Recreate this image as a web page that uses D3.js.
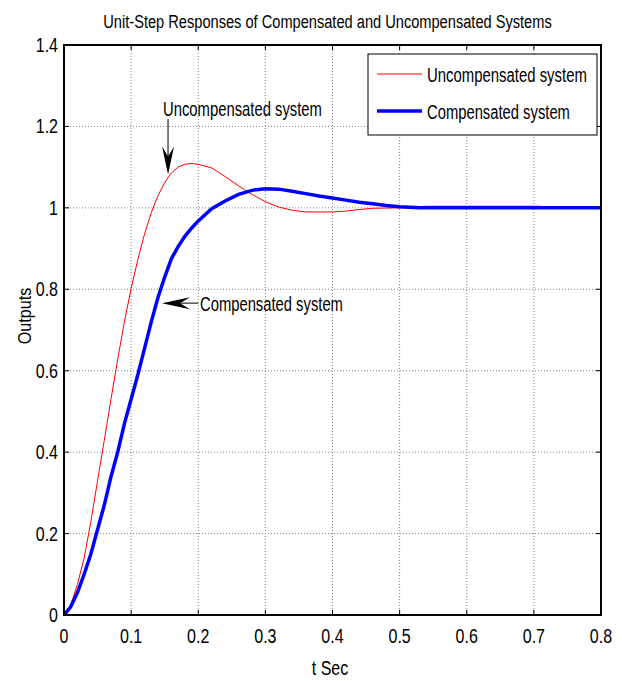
<!DOCTYPE html>
<html>
<head>
<meta charset="utf-8">
<script src="https://cdn.jsdelivr.net/npm/d3@7"></script>
<style>
  body { margin: 0; background: #fff; }
  svg text { font-family: "Liberation Sans", Arial, sans-serif; fill: #000; }
</style>
</head>
<body>
<div id="chart"></div>
<script>
// time axis samples (s) and step responses
var tUncomp = [0, 0.01, 0.02, 0.03, 0.04, 0.05, 0.06, 0.07, 0.08, 0.09, 0.10, 0.11, 0.12, 0.13, 0.14,
  0.15, 0.16, 0.17, 0.18, 0.19, 0.20, 0.22, 0.24, 0.26, 0.28, 0.30, 0.32, 0.34, 0.36, 0.38, 0.40,
  0.42, 0.44, 0.46, 0.50, 0.52, 0.54, 0.60, 0.71];
var yUncomp = [0, 0.025, 0.075, 0.14, 0.229, 0.33, 0.429, 0.53, 0.628, 0.72, 0.802, 0.873, 0.936, 0.988, 1.030,
  1.062, 1.086, 1.100, 1.107, 1.109, 1.107, 1.098, 1.077, 1.054, 1.033, 1.015, 1.002, 0.994, 0.990, 0.990, 0.990,
  0.992, 0.996, 0.999, 1.000, 1.002, 1.004, 1.004, 1.004];

var tComp = [0, 0.01, 0.02, 0.03, 0.04, 0.05, 0.06, 0.07, 0.08, 0.09, 0.10, 0.11, 0.12, 0.13, 0.14,
  0.15, 0.16, 0.17, 0.18, 0.19, 0.20, 0.22, 0.24, 0.26, 0.28, 0.30, 0.32, 0.34, 0.36, 0.38, 0.40,
  0.42, 0.44, 0.46, 0.48, 0.50, 0.53, 0.60, 0.70, 0.80];
var yComp = [0, 0.02, 0.055, 0.10, 0.15, 0.21, 0.27, 0.34, 0.40, 0.47, 0.53, 0.59, 0.655, 0.72, 0.78,
  0.83, 0.875, 0.905, 0.93, 0.95, 0.968, 0.998, 1.017, 1.033, 1.043, 1.047, 1.046, 1.041, 1.035, 1.029, 1.024,
  1.019, 1.014, 1.010, 1.006, 1.003, 1.000, 1.000, 1.000, 1.000];

var xTicks = [0, 0.1, 0.2, 0.3, 0.4, 0.5, 0.6, 0.7, 0.8];
var yTicks = [0, 0.2, 0.4, 0.6, 0.8, 1, 1.2, 1.4];

var seriesNames = ["Uncompensated system", "Compensated system"];
var seriesColors = ["#ff0000", "#0000ff"];

// annotation arrows in data units: [text, textT, textY, tailT, tailY, headT, headY]
var notes = [
  ["Uncompensated system", 0.1475, 1.225, 0.155, 1.218, 0.155, 1.082],
  ["Compensated system", 0.2026, 0.747, 0.2, 0.766, 0.146, 0.766]
];

var width = 622, height = 681;
var margin = {left: 64, right: 21, top: 45, bottom: 66};

var svg = d3.select("#chart").append("svg")
  .attr("width", width)
  .attr("height", height);

var x = d3.scaleLinear().domain([0, 0.8]).range([margin.left, width - margin.right]);
var y = d3.scaleLinear().domain([0, 1.4]).range([height - margin.bottom, margin.top]);

// condensed text: draw at origin inside a group, then squeeze the group
// k < 1 is a factor, k > 1 is a target width in px
function label(parent, str, px, py, size, anchor, k, rot) {
  var g = parent.append("g");
  var t = g.append("text")
    .attr("text-anchor", anchor)
    .style("font-size", size + "px")
    .text(str);
  var sx = k > 1 ? k / t.node().getComputedTextLength() : k;
  g.attr("transform", "translate(" + px + "," + py + ")" + (rot ? " rotate(" + rot + ")" : "") + " scale(" + sx + ",1)");
  return g;
}

// title
label(svg, "Unit-Step Responses of Compensated and Uncompensated Systems", 327.5, 28, 19, "middle", 449);

// grid, dotted like matlab
var grid = svg.append("g").attr("stroke", "#666").attr("stroke-width", 0.8).attr("stroke-dasharray", "1,2");
grid.selectAll(".gx").data(xTicks.slice(1, -1)).enter().append("line")
  .attr("x1", x).attr("x2", x)
  .attr("y1", y(0)).attr("y2", y(1.4));
grid.selectAll(".gy").data(yTicks.slice(1, -1)).enter().append("line")
  .attr("y1", y).attr("y2", y)
  .attr("x1", x(0)).attr("x2", x(0.8));

// inward ticks on all sides
var tk = 5;
var ticks = svg.append("g").attr("stroke", "#000").attr("stroke-width", 1);
xTicks.forEach(function (d) {
  ticks.append("line").attr("x1", x(d)).attr("x2", x(d)).attr("y1", y(0)).attr("y2", y(0) - tk);
  ticks.append("line").attr("x1", x(d)).attr("x2", x(d)).attr("y1", y(1.4)).attr("y2", y(1.4) + tk);
});
yTicks.forEach(function (d) {
  ticks.append("line").attr("y1", y(d)).attr("y2", y(d)).attr("x1", x(0)).attr("x2", x(0) + tk);
  ticks.append("line").attr("y1", y(d)).attr("y2", y(d)).attr("x1", x(0.8)).attr("x2", x(0.8) - tk);
});

// tick labels
var tickLab = svg.append("g");
xTicks.forEach(function (d) {
  label(tickLab, d, x(d), y(0) + 28, 20, "middle", 0.8);
});
yTicks.forEach(function (d) {
  label(tickLab, d, x(0) - 6, y(d) + 7, 20, "end", 0.8);
});

// axis labels
label(svg, "t Sec", 330, 675, 20, "middle", 0.8);
label(svg, "Outputs", 31, 316, 19, "middle", 0.85, -90);

// curves
var line = d3.line().x(function (d) { return x(d[0]); }).y(function (d) { return y(d[1]); });

svg.append("path")
  .datum(d3.zip(tUncomp, yUncomp))
  .attr("d", line)
  .attr("fill", "none")
  .attr("stroke", seriesColors[0])
  .attr("stroke-width", 1);

svg.append("path")
  .datum(d3.zip(tComp, yComp))
  .attr("d", line)
  .attr("fill", "none")
  .attr("stroke", seriesColors[1])
  .attr("stroke-width", 3.5);

// axes box
svg.append("rect")
  .attr("x", x(0)).attr("y", y(1.4))
  .attr("width", x(0.8) - x(0)).attr("height", y(0) - y(1.4))
  .attr("fill", "none").attr("stroke", "#000").attr("stroke-width", 2);

// annotations
notes.forEach(function (n, i) {
  var tx = x(n[3]), ty = y(n[4]), hx = x(n[5]), hy = y(n[6]);
  var ang = Math.atan2(hy - ty, hx - tx);
  var L = 28, W = 6, N = 18;
  var ca = Math.cos(ang), sa = Math.sin(ang);
  var backX = hx - L * ca, backY = hy - L * sa;
  var notchX = hx - N * ca, notchY = hy - N * sa;
  svg.append("line")
    .attr("x1", tx).attr("y1", ty).attr("x2", notchX).attr("y2", notchY)
    .attr("stroke", "#000").attr("stroke-width", 1);
  svg.append("path")
    .attr("d", "M" + hx + "," + hy +
      "L" + (backX - W * sa) + "," + (backY + W * ca) +
      "L" + notchX + "," + notchY +
      "L" + (backX + W * sa) + "," + (backY - W * ca) + "Z")
    .attr("fill", "#000");
  label(svg, n[0], x(n[1]), y(n[2]), 20, "start", i === 0 ? 159 : 143);
});

// legend
var lg = svg.append("g");
lg.append("rect")
  .attr("x", 368).attr("y", 54).attr("width", 229).attr("height", 81)
  .attr("fill", "#fff").attr("stroke", "#000").attr("stroke-width", 1);
seriesNames.forEach(function (name, i) {
  var ly = 74 + i * 37;
  lg.append("line")
    .attr("x1", 377).attr("x2", 422).attr("y1", ly).attr("y2", ly)
    .attr("stroke", seriesColors[i]).attr("stroke-width", i === 0 ? 1 : 3.5);
  label(lg, name, 427, ly + 8, 20, "start", i === 0 ? 160 : 143);
});
</script>
</body>
</html>
